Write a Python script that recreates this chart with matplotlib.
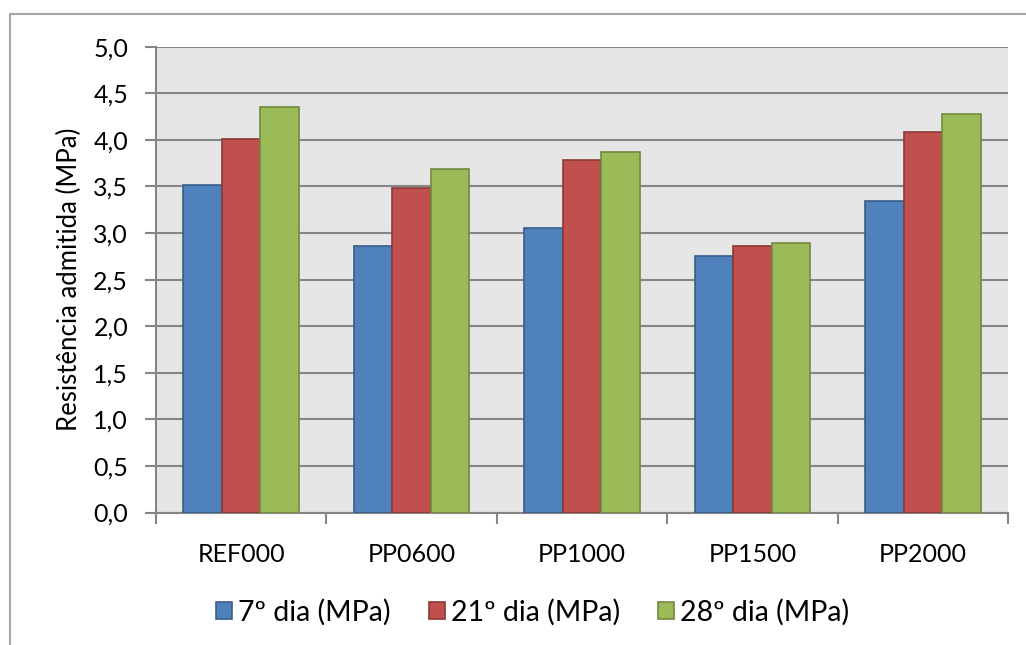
# Resistência admitida - gráfico de barras agrupadas
import numpy as np
import matplotlib.pyplot as plt
from matplotlib.patches import Rectangle

# Dados
categorias = ['REF000', 'PP0600', 'PP1000', 'PP1500', 'PP2000']
dia7 = [3.52, 2.86, 3.05, 2.75, 3.34]
dia21 = [4.01, 3.48, 3.78, 2.86, 4.08]
dia28 = [4.35, 3.69, 3.87, 2.89, 4.28]
series = ['7º dia (MPa)', '21º dia (MPa)', '28º dia (MPa)']
yticks = [0.0, 0.5, 1.0, 1.5, 2.0, 2.5, 3.0, 3.5, 4.0, 4.5, 5.0]

cores = ['#4f81bd', '#c0504d', '#9bbb59']
bordas = ['#385d8a', '#8c3836', '#71893f']

plt.rcParams['font.family'] = ['Lato', 'DejaVu Sans']

fig = plt.figure(figsize=(10.26, 6.45), dpi=100)
ax = fig.add_axes([0.152, 0.2054, 0.8305, 0.7222])
ax.set_facecolor('#e6e6e6')

x = np.arange(len(categorias))
w = 0.226
for i, (vals, nome) in enumerate(zip([dia7, dia21, dia28], series)):
    ax.bar(x + (i - 1) * w, vals, w, color=cores[i], edgecolor=bordas[i],
           linewidth=1.2, label=nome, zorder=3)

ax.set_xlim(-0.5, len(categorias) - 0.5)
ax.set_ylim(0, 5)
ax.set_yticks(yticks)
ax.set_yticklabels([f'{v:.1f}'.replace('.', ',') for v in yticks])
ax.yaxis.grid(True, color='#868686', linewidth=1.5, zorder=0)

# marcas do eixo x entre categorias
ax.set_xticks(np.arange(-0.5, len(categorias)), minor=False)
ax.set_xticklabels([])
ax.set_xticks(x, minor=True)
ax.set_xticklabels(categorias, minor=True)
ax.tick_params(axis='x', which='major', length=8, width=1.5, color='#868686')
ax.tick_params(axis='x', which='minor', length=0, pad=22, labelsize=18)
ax.tick_params(axis='y', length=8, width=1.5, color='#868686', labelsize=18, pad=12)

for s in ['top', 'right']:
    ax.spines[s].set_visible(False)
for s in ['left', 'bottom']:
    ax.spines[s].set_color('#868686')
    ax.spines[s].set_linewidth(1.5)

ax.set_ylabel('Resistência admitida (MPa)', fontsize=18.5, labelpad=8)

fig.legend(loc='center', bbox_to_anchor=(0.519, 0.051), ncol=3, frameon=False,
           fontsize=20.5, handlelength=0.57, handleheight=0.57, handletextpad=0.2,
           columnspacing=1.35)

# moldura externa do gráfico
fig.patches.append(Rectangle((10 / 1026, -0.1), 1.2, (645 - 14) / 645 + 0.1,
                             transform=fig.transFigure, fill=False,
                             edgecolor='#a6a6a6', linewidth=1.5))

fig.savefig('out.png', dpi=100)
